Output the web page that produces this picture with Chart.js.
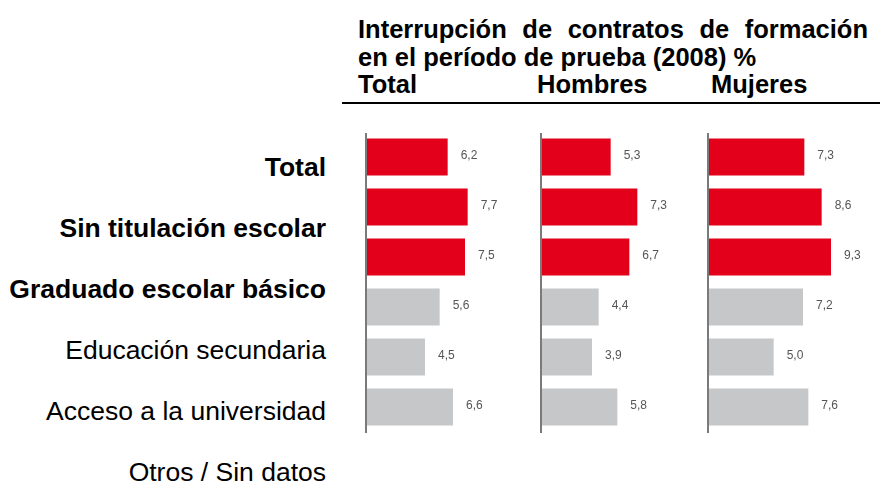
<!DOCTYPE html>
<html lang="es">
<head>
  <meta charset="UTF-8" />
  <title>Interrupción de contratos de formación</title>
  <script src="https://cdn.jsdelivr.net/npm/chart.js"></script>
  <style>
    html, body { margin: 0; padding: 0; background: #fff; }
    body { width: 880px; height: 481px; position: relative; overflow: hidden;
           font-family: "Liberation Sans", Arial, sans-serif; color: #000; }
    .title { position: absolute; left: 358px; font-weight: bold; font-size: 25.5px; line-height: 28px; white-space: nowrap; }
    #t1 { top: 15px; width: 510px; text-align: justify; text-align-last: justify; }
    #t2 { top: 43px; }
    .col { top: 70px; }
    #rule { position: absolute; left: 342px; top: 102px; width: 538px; height: 2px; background: #000; }
    .row { position: absolute; right: 554px; font-size: 26.5px; line-height: 30px; white-space: nowrap; }
    .row.b { font-weight: bold; }
    canvas { position: absolute; }
  </style>
</head>
<body>
  <div class="title" id="t1">Interrupción de contratos de formación</div>
  <div class="title" id="t2">en el período de prueba (2008) %</div>
  <div id="cols"></div>
  <div id="rule"></div>
  <div id="rows"></div>

  <canvas id="c0" width="180" height="308" style="left:364px;top:128px"></canvas>
  <canvas id="c1" width="165" height="308" style="left:539px;top:128px"></canvas>
  <canvas id="c2" width="172" height="308" style="left:706px;top:128px"></canvas>

  <script>
    // datos
    const rowLabels = ['Total', 'Sin titulación escolar', 'Graduado escolar básico',
      'Educación secundaria', 'Acceso a la universidad', 'Otros / Sin datos'];
    const boldRows = [true, true, true, false, false, false];
    const extraLabel = 'Otros / Sin datos';
    const panels = ['Total', 'Hombres', 'Mujeres'];
    const totalVals   = [6.2, 7.7, 7.5, 5.6, 4.5, 6.6];
    const hombresVals = [5.3, 7.3, 6.7, 4.4, 3.9, 5.8];
    const mujeresVals = [7.3, 8.6, 9.3, 7.2, 5.0, 7.6];

    const RED = '#e2001a';
    const GREY = '#c6c7c9';

    // cabeceras de columna
    const colLeft = [358, 537, 711];
    panels.forEach((p, i) => {
      const d = document.createElement('div');
      d.className = 'title col';
      d.style.left = colLeft[i] + 'px';
      d.textContent = p;
      document.getElementById('cols').appendChild(d);
    });

    // etiquetas de filas (a la izquierda)
    const rowText = ['Total', 'Sin titulación escolar', 'Graduado escolar básico',
      'Educación secundaria', 'Acceso a la universidad', extraLabel];
    rowText.forEach((t, i) => {
      const d = document.createElement('div');
      d.className = 'row' + (boldRows[i] ? ' b' : '');
      d.style.top = (152 + i * 61) + 'px';
      d.textContent = t;
      document.getElementById('rows').appendChild(d);
    });

    // valores junto a las barras + eje vertical
    const valueLabels = {
      id: 'valueLabels',
      afterDatasetsDraw(chart) {
        const { ctx, chartArea } = chart;
        ctx.save();
        ctx.strokeStyle = '#7a7a7a';
        ctx.lineWidth = 2;
        ctx.beginPath();
        ctx.moveTo(chartArea.left + 1, chartArea.top + 1);
        ctx.lineTo(chartArea.left + 1, chartArea.bottom + 1);
        ctx.stroke();
        ctx.fillStyle = '#555';
        ctx.font = '12px "Liberation Sans", Arial, sans-serif';
        ctx.textBaseline = 'middle';
        const meta = chart.getDatasetMeta(0);
        meta.data.forEach((bar, i) => {
          const v = chart.data.datasets[0].data[i];
          ctx.fillText(v.toFixed(1).replace('.', ','), bar.x + 13, bar.y - 1);
        });
        ctx.restore();
      }
    };

    function makePanel(id, values) {
      new Chart(document.getElementById(id), {
        type: 'bar',
        data: {
          labels: rowLabels,
          datasets: [{
            data: values,
            backgroundColor: values.map((v, i) => boldRows[i] ? RED : GREY),
            borderWidth: 0,
            categoryPercentage: 1,
            barPercentage: 0.74
          }]
        },
        options: {
          indexAxis: 'y',
          responsive: false,
          animation: false,
          layout: { padding: { left: 1, top: 4, bottom: 4, right: 0 } },
          scales: {
            x: { display: false, min: 0, max: 12 * (document.getElementById(id).width - 1) / 160 },
            y: { display: false }
          },
          plugins: { legend: { display: false }, tooltip: { enabled: false } }
        },
        plugins: [valueLabels]
      });
    }

    makePanel('c0', totalVals);
    makePanel('c1', hombresVals);
    makePanel('c2', mujeresVals);
  </script>
</body>
</html>
